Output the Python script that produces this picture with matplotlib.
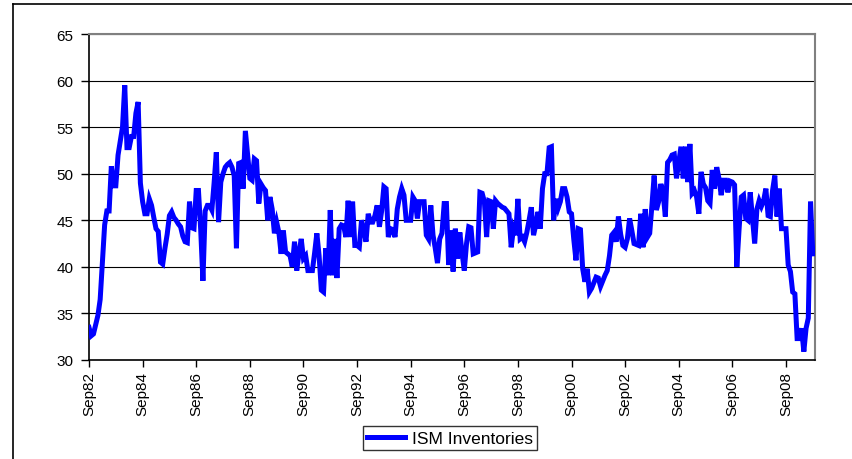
import pandas as pd
import matplotlib.pyplot as plt
from matplotlib.lines import Line2D

plt.rcParams['font.family'] = ['Liberation Sans', 'DejaVu Sans']

# monthly ISM inventories index, Sep 1982 onwards
ism_inventories = [
    33.5, 32.6, 32.8, 33.8, 34.8, 36.5, 40.5, 44.5, 46.0, 46.0,
    50.8, 48.7, 48.7, 52.0, 53.5, 55.0, 59.5, 52.8, 52.8, 54.0,
    54.0, 56.5, 57.7, 49.0, 47.0, 45.7, 45.7, 47.3, 46.6, 45.3,
    44.1, 43.8, 40.5, 40.3, 42.0, 43.5, 45.5, 45.9, 45.3, 45.0,
    44.6, 44.3, 43.3, 42.7, 42.6, 47.0, 44.2, 44.1, 48.2, 48.2,
    44.0, 38.5, 46.0, 46.6, 46.6, 46.1, 49.0, 52.3, 44.8, 49.1,
    50.0, 50.7, 51.0, 51.2, 50.7, 49.8, 42.0, 51.1, 51.2, 48.4,
    54.6, 52.0, 49.5, 49.3, 51.6, 51.4, 46.8, 48.9, 48.5, 48.2,
    45.0, 47.5, 46.2, 43.6, 44.8, 43.7, 41.4, 43.9, 41.6, 41.4,
    41.2, 40.0, 42.7, 39.6, 41.5, 43.0, 40.9, 41.2, 39.6, 39.6,
    39.6, 41.5, 43.6, 41.2, 37.5, 37.3, 42.0, 39.1, 46.1, 39.1,
    43.0, 38.8, 44.1, 44.5, 44.4, 43.2, 47.1, 43.2, 47.0, 42.3,
    42.3, 42.1, 45.0, 44.0, 42.7, 45.7, 44.8, 44.8, 45.5, 46.6,
    44.3, 46.0, 48.6, 48.4, 43.2, 44.1, 44.0, 43.2, 46.2, 47.5,
    48.4, 47.7, 45.0, 45.0, 45.0, 47.5, 47.1, 45.2, 47.0, 47.0,
    47.0, 43.4, 43.0, 46.6, 43.4, 42.0, 40.4, 43.0, 43.6, 46.8,
    46.8, 40.2, 43.9, 39.5, 44.1, 40.9, 43.7, 41.5, 39.6, 42.5,
    44.3, 44.2, 41.4, 41.5, 41.6, 48.0, 47.9, 47.0, 43.2, 47.1,
    47.0, 44.1, 47.1, 46.8, 46.6, 46.4, 46.3, 46.0, 45.7, 42.1,
    44.1, 43.4, 47.3, 43.0, 43.2, 42.7, 43.7, 45.0, 46.4, 43.4,
    44.5, 45.9, 44.1, 48.4, 50.0, 50.0, 52.8, 52.9, 45.0, 47.3,
    46.3, 47.0, 48.4, 48.4, 47.5, 45.9, 45.7, 43.0, 40.7, 44.1,
    44.0, 39.8, 38.4, 39.8, 37.3, 37.7, 38.3, 38.9, 38.8, 37.9,
    38.5, 39.1, 39.6, 41.2, 43.4, 43.7, 42.7, 45.4, 43.5, 42.3,
    42.1, 43.0, 45.2, 43.9, 42.5, 42.4, 42.3, 45.7, 42.1, 46.2,
    43.2, 43.6, 46.6, 49.8, 46.1, 47.0, 48.9, 47.9, 45.4, 51.2,
    51.5, 52.0, 52.1, 49.5, 51.2, 52.9, 49.5, 52.9, 49.1, 53.2,
    47.9, 48.2, 47.5, 45.7, 50.2, 48.9, 48.5, 47.1, 46.8, 50.4,
    48.4, 50.7, 49.5, 47.7, 49.3, 49.3, 48.0, 49.2, 49.1, 48.8,
    40.0, 44.0, 47.5, 47.7, 45.2, 45.0, 48.0, 45.2, 42.5, 46.2,
    47.1, 46.5, 47.1, 48.4, 45.5, 45.4, 48.2, 49.8, 45.4, 48.4,
    44.1, 44.1, 44.1, 40.2, 39.5, 37.3, 37.1, 32.3, 32.3, 33.4,
    30.9, 33.4, 34.5, 47.0, 41.4,
]
dates = pd.date_range('1982-09-01', periods=len(ism_inventories), freq='MS')
y_ticks = [30, 35, 40, 45, 50, 55, 60, 65]

fig = plt.figure(figsize=(8.52, 4.60), dpi=100)
ax = fig.add_axes([89 / 852, 1 - 361 / 460, (815 - 89) / 852, (361 - 35) / 460])

x = list(range(len(dates)))
ax.plot(x, ism_inventories, color='#0000FF', lw=3.6, solid_joinstyle='miter',
        label='ISM Inventories', zorder=3)

ax.set_ylim(30, 65)
ax.set_yticks(y_ticks)
ax.set_xlim(0, len(dates))
tick_pos = x[::24]
ax.set_xticks(tick_pos)
ax.set_xticklabels([dates[i].strftime('%b%y') for i in tick_pos], rotation=90,
                   fontsize=11)
ax.tick_params(axis='y', labelsize=11, length=6, width=1, direction='out', pad=5)
ax.tick_params(axis='x', length=5, width=1, direction='out', pad=3)

ax.grid(axis='y', color='black', lw=0.8)
ax.set_axisbelow(True)
for side in ['left', 'bottom']:
    ax.spines[side].set_color('black')
    ax.spines[side].set_linewidth(1.2)
for side in ['top', 'right']:
    ax.spines[side].set_color('#808080')
    ax.spines[side].set_linewidth(1.5)

handle = Line2D([], [], color='#0000FF', lw=3.6)
leg = fig.legend([handle], ['ISM Inventories'], loc='center',
                 bbox_to_anchor=(450 / 852, 1 - 439 / 460), fontsize=12.5,
                 frameon=True, fancybox=False, edgecolor='black',
                 handlelength=2.2, handletextpad=0.4, borderpad=0.25,
                 borderaxespad=0)
leg.get_frame().set_linewidth(1.0)

# outer chart frame
fig.add_artist(Line2D([13 / 852, 13 / 852], [0, 1 - 5 / 460], color='black', lw=1.2))
fig.add_artist(Line2D([13 / 852, 1], [1 - 5 / 460, 1 - 5 / 460], color='black', lw=1.2))

fig.savefig('out.png', dpi=100)
